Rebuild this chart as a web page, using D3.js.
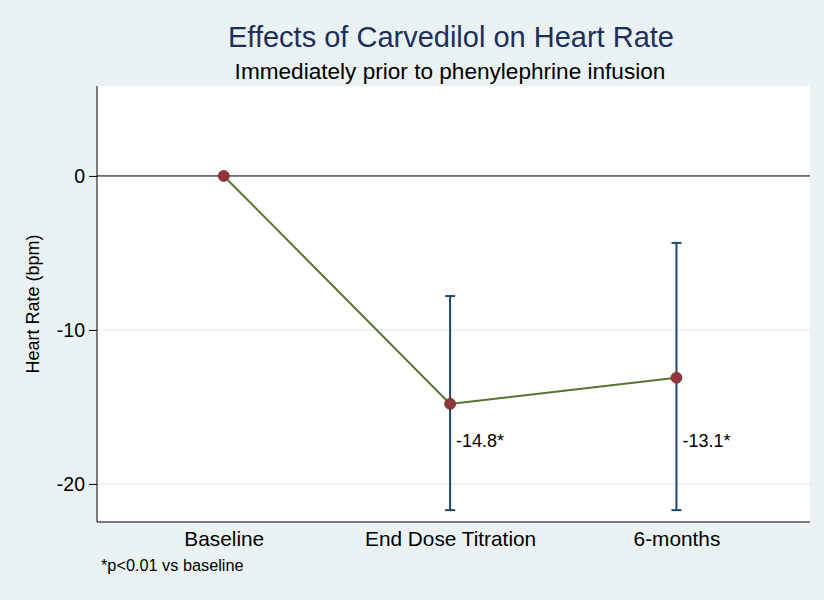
<!DOCTYPE html>
<html><head><meta charset="utf-8">
<script src="https://cdn.jsdelivr.net/npm/d3@7"></script>
<style>body{margin:0;background:#eaf2f3;} text{font-family:"Liberation Sans",Arial,sans-serif;}</style>
</head><body><svg id="c" width="824" height="600"></svg>
<script>
const categories = ["Baseline", "End Dose Titration", "6-months"];
const meanChange = [0, -14.8, -13.1];
const ciUpper = [null, -7.8, -4.35];
const ciLower = [null, -21.7, -21.7];
const valueLabels = [null, "-14.8*", "-13.1*"];
const yTicks = [0, -10, -20];

const svg = d3.select("#c");
const W = 824, H = 600;
const m = {left: 97, right: 14, top: 86, bottom: 78};
const x = d3.scaleLinear().domain([0.44, 3.59]).range([m.left, W - m.right]);
const y = d3.scaleLinear().domain([-22.47, 5.84]).range([H - m.bottom, m.top]);
const FONT = "Liberation Sans, Arial, sans-serif";

svg.append("rect").attr("width", W).attr("height", H).attr("fill", "#eaf2f3");
svg.append("rect").attr("x", m.left).attr("y", m.top).attr("width", W - m.right - m.left).attr("height", H - m.bottom - m.top).attr("fill", "#ffffff");

// grid
svg.append("g").selectAll("line").data(yTicks).join("line")
  .attr("x1", m.left).attr("x2", W - m.right).attr("y1", d => y(d)).attr("y2", d => y(d))
  .attr("stroke", "#e6eff1").attr("stroke-width", 1.5);
// zero line
svg.append("line").attr("x1", m.left).attr("x2", W - m.right).attr("y1", y(0)).attr("y2", y(0)).attr("stroke", "#000").attr("stroke-width", 1);

// axes
const yAxis = d3.axisLeft(y).tickValues(yTicks).tickSize(8).tickPadding(4).tickFormat(d => String(d));
const gy = svg.append("g").attr("transform", `translate(${m.left},0)`).call(yAxis);
gy.select(".domain").attr("d", `M0,${m.top}V${H - m.bottom}`).attr("stroke", "#000");
gy.selectAll("text").attr("font-size", 19.5).attr("fill", "#000").attr("font-family", FONT);

const xAxis = d3.axisBottom(x).tickValues([1, 2, 3]).tickSize(0).tickPadding(9).tickFormat((d, i) => categories[i]);
const gx = svg.append("g").attr("transform", `translate(0,${H - m.bottom})`).call(xAxis);
gx.select(".domain").attr("d", `M${m.left},0H${W - m.right}`).attr("stroke", "#000");
gx.selectAll("text").attr("font-size", 20.8).attr("fill", "#000").attr("font-family", FONT);

const pts = categories.map((c, i) => ({i: i + 1, v: meanChange[i], hi: ciUpper[i], lo: ciLower[i], lab: valueLabels[i]}));

// error bars
const eb = pts.filter(d => d.hi !== null);
const gE = svg.append("g").attr("stroke", "#1a476f").attr("stroke-width", 2).attr("fill", "none");
gE.selectAll("line.v").data(eb).join("line").attr("class", "v")
  .attr("x1", d => x(d.i)).attr("x2", d => x(d.i)).attr("y1", d => y(d.hi)).attr("y2", d => y(d.lo));
gE.selectAll("line.t").data(eb).join("line").attr("class", "t")
  .attr("x1", d => x(d.i) - 5).attr("x2", d => x(d.i) + 5).attr("y1", d => y(d.hi)).attr("y2", d => y(d.hi));
gE.selectAll("line.b").data(eb).join("line").attr("class", "b")
  .attr("x1", d => x(d.i) - 5).attr("x2", d => x(d.i) + 5).attr("y1", d => y(d.lo)).attr("y2", d => y(d.lo));

// line
svg.append("path").datum(pts).attr("fill", "none").attr("stroke", "#55752f").attr("stroke-width", 2)
  .attr("d", d3.line().x(d => x(d.i)).y(d => y(d.v)));

// markers
svg.append("g").selectAll("circle").data(pts).join("circle")
  .attr("cx", d => x(d.i)).attr("cy", d => y(d.v)).attr("r", 5.5)
  .attr("fill", "#90353b").attr("stroke", "#7a2a30").attr("stroke-width", 0.8);

// value labels (fixed row below the markers)
svg.append("g").selectAll("text").data(pts.filter(d => d.lab)).join("text")
  .attr("x", d => x(d.i) + 6).attr("y", y(-17.58))
  .attr("font-size", 18).attr("fill", "#000").text(d => d.lab);

// titles
svg.append("text").attr("x", 451).attr("y", 47).attr("text-anchor", "middle").attr("font-size", 29).attr("fill", "#1c2f5c").text("Effects of Carvedilol on Heart Rate");
svg.append("text").attr("x", 450).attr("y", 79).attr("text-anchor", "middle").attr("font-size", 22.6).attr("fill", "#000").text("Immediately prior to phenylephrine infusion");
svg.append("text").attr("transform", `translate(39,${(m.top + H - m.bottom) / 2}) rotate(-90)`).attr("text-anchor", "middle").attr("font-size", 18).attr("fill", "#000").text("Heart Rate (bpm)");
svg.append("text").attr("x", 101).attr("y", 571).attr("font-size", 16.3).attr("fill", "#000").text("*p<0.01 vs baseline");
</script></body></html>
